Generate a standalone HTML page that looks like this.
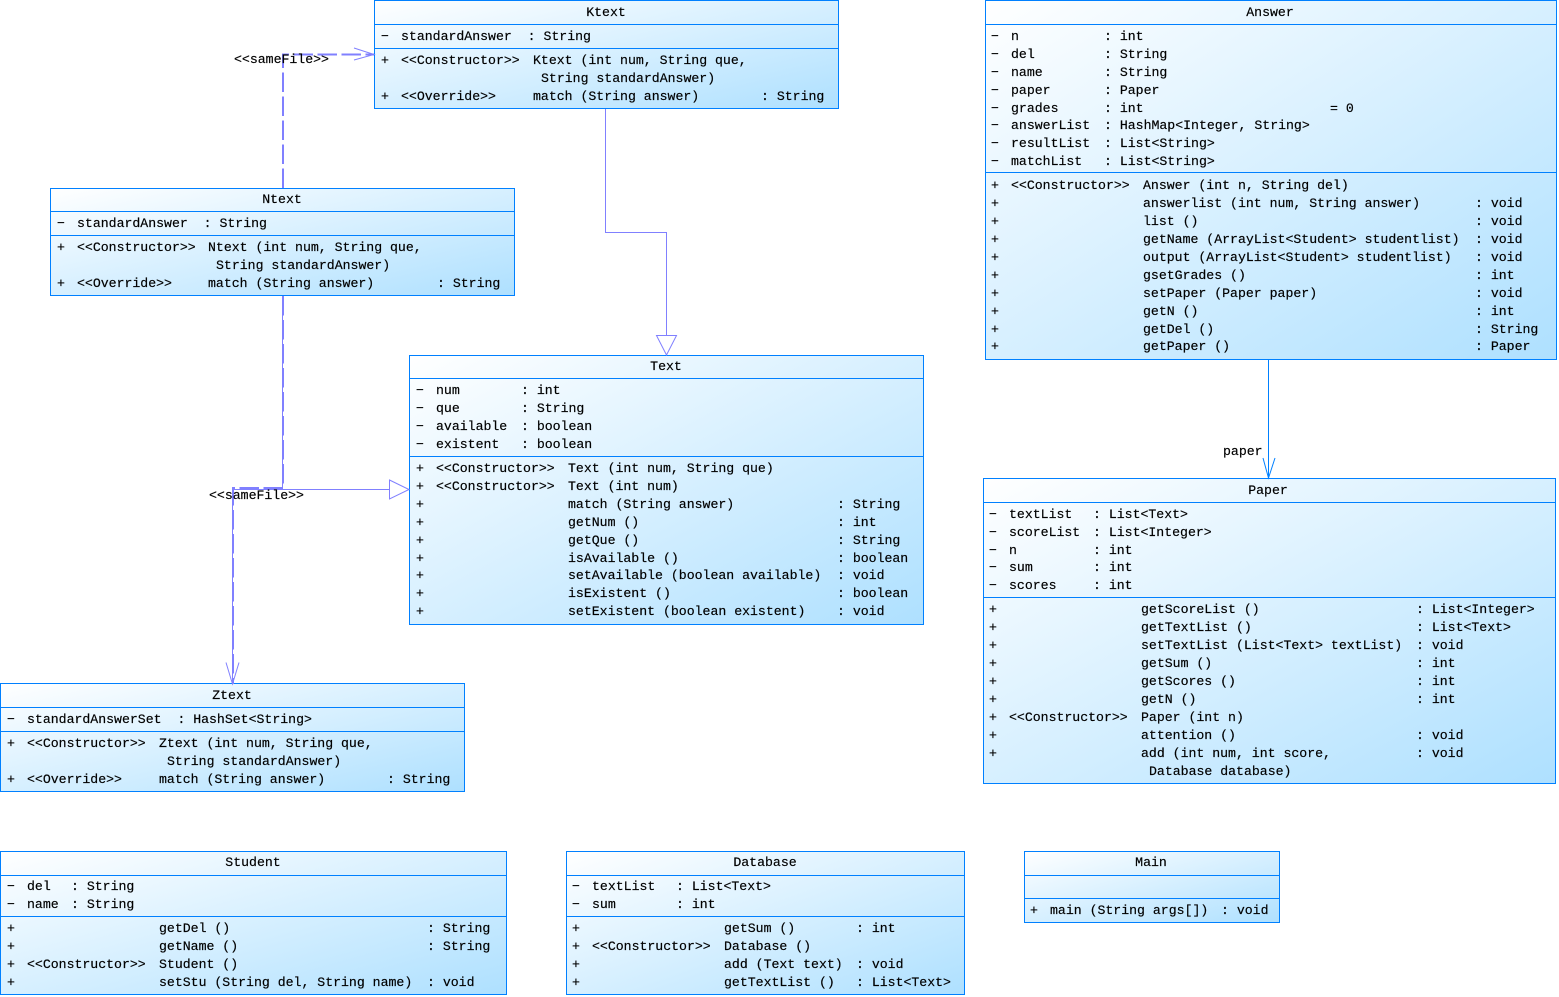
<!DOCTYPE html>
<html><head><meta charset="utf-8"><title>UML</title>
<style>
html,body{margin:0;padding:0;background:#fff;width:1559px;height:997px;overflow:hidden}
svg{display:block}
text{font-family:"Liberation Mono",monospace;font-size:13.2px;fill:#000;stroke:#000;stroke-width:.18px;white-space:pre}
.b{stroke:#0080ff;stroke-width:1;fill:url(#g)}
.l{stroke:#0080ff;stroke-width:1;fill:none}
.c{stroke:#8080ff;stroke-width:1;fill:none}
.d{stroke:#8080ff;stroke-width:2;fill:none;stroke-dasharray:19.5 4.5}
.t{text-anchor:middle}
</style></head><body>
<svg width="1559" height="997" viewBox="0 0 1559 997" xmlns="http://www.w3.org/2000/svg">
<defs><linearGradient id="g" x1="0" y1="0" x2="1" y2="1"><stop offset="0" stop-color="#ffffff"/><stop offset="1" stop-color="#aee0ff"/></linearGradient></defs>

<!-- Ktext -->
<rect class="b" x="374.5" y="0.5" width="464" height="108"/>
<path class="l" d="M374 24.5H838M374 48.5H838"/>
<text class="t" x="606" y="16">Ktext</text>
<text x="381" y="40">−</text><text x="401" y="40">standardAnswer  : String</text>
<text x="381" y="64">+</text><text x="401" y="64">&lt;&lt;Constructor&gt;&gt;</text><text x="533" y="64">Ktext (int num, String que,</text>
<text x="541" y="82">String standardAnswer)</text>
<text x="381" y="100">+</text><text x="401" y="100">&lt;&lt;Override&gt;&gt;</text><text x="533" y="100">match (String answer)</text><text x="761" y="100">: String</text>

<!-- Ntext -->
<rect class="b" x="50.5" y="188.5" width="464" height="107"/>
<path class="l" d="M50 211.5H514M50 235.5H514"/>
<text class="t" x="282" y="203">Ntext</text>
<text x="57" y="227">−</text><text x="77" y="227">standardAnswer  : String</text>
<text x="57" y="251">+</text><text x="77" y="251">&lt;&lt;Constructor&gt;&gt;</text><text x="208" y="251">Ntext (int num, String que,</text>
<text x="216" y="269">String standardAnswer)</text>
<text x="57" y="287">+</text><text x="77" y="287">&lt;&lt;Override&gt;&gt;</text><text x="208" y="287">match (String answer)</text><text x="437" y="287">: String</text>

<!-- Text -->
<rect class="b" x="409.5" y="355.5" width="514" height="269"/>
<path class="l" d="M409 378.5H923M409 456.5H923"/>
<text class="t" x="666" y="370">Text</text>
<text x="416" y="394">−</text><text x="436" y="394">num</text><text x="521" y="394">: int</text>
<text x="416" y="412">−</text><text x="436" y="412">que</text><text x="521" y="412">: String</text>
<text x="416" y="430">−</text><text x="436" y="430">available</text><text x="521" y="430">: boolean</text>
<text x="416" y="448">−</text><text x="436" y="448">existent</text><text x="521" y="448">: boolean</text>
<text x="416" y="472">+</text><text x="436" y="472">&lt;&lt;Constructor&gt;&gt;</text><text x="568" y="472">Text (int num, String que)</text>
<text x="416" y="490">+</text><text x="436" y="490">&lt;&lt;Constructor&gt;&gt;</text><text x="568" y="490">Text (int num)</text>
<text x="416" y="508">+</text><text x="568" y="508">match (String answer)</text><text x="837" y="508">: String</text>
<text x="416" y="526">+</text><text x="568" y="526">getNum ()</text><text x="837" y="526">: int</text>
<text x="416" y="544">+</text><text x="568" y="544">getQue ()</text><text x="837" y="544">: String</text>
<text x="416" y="562">+</text><text x="568" y="562">isAvailable ()</text><text x="837" y="562">: boolean</text>
<text x="416" y="579">+</text><text x="568" y="579">setAvailable (boolean available)</text><text x="837" y="579">: void</text>
<text x="416" y="597">+</text><text x="568" y="597">isExistent ()</text><text x="837" y="597">: boolean</text>
<text x="416" y="615">+</text><text x="568" y="615">setExistent (boolean existent)</text><text x="837" y="615">: void</text>

<!-- Ztext -->
<rect class="b" x="0.5" y="683.5" width="464" height="108"/>
<path class="l" d="M0 707.5H464M0 731.5H464"/>
<text class="t" x="232" y="699">Ztext</text>
<text x="7" y="723">−</text><text x="27" y="723">standardAnswerSet  : HashSet&lt;String&gt;</text>
<text x="7" y="747">+</text><text x="27" y="747">&lt;&lt;Constructor&gt;&gt;</text><text x="159" y="747">Ztext (int num, String que,</text>
<text x="167" y="765">String standardAnswer)</text>
<text x="7" y="783">+</text><text x="27" y="783">&lt;&lt;Override&gt;&gt;</text><text x="159" y="783">match (String answer)</text><text x="387" y="783">: String</text>

<!-- Answer -->
<rect class="b" x="985.5" y="0.5" width="571" height="359"/>
<path class="l" d="M985 24.5H1556M985 172.5H1556"/>
<text class="t" x="1270" y="16">Answer</text>
<text x="991" y="40">−</text><text x="1011" y="40">n</text><text x="1104" y="40">: int</text>
<text x="991" y="58">−</text><text x="1011" y="58">del</text><text x="1104" y="58">: String</text>
<text x="991" y="76">−</text><text x="1011" y="76">name</text><text x="1104" y="76">: String</text>
<text x="991" y="94">−</text><text x="1011" y="94">paper</text><text x="1104" y="94">: Paper</text>
<text x="991" y="112">−</text><text x="1011" y="112">grades</text><text x="1104" y="112">: int</text><text x="1330" y="112">= 0</text>
<text x="991" y="129">−</text><text x="1011" y="129">answerList</text><text x="1104" y="129">: HashMap&lt;Integer, String&gt;</text>
<text x="991" y="147">−</text><text x="1011" y="147">resultList</text><text x="1104" y="147">: List&lt;String&gt;</text>
<text x="991" y="165">−</text><text x="1011" y="165">matchList</text><text x="1104" y="165">: List&lt;String&gt;</text>
<text x="991" y="189">+</text><text x="1011" y="189">&lt;&lt;Constructor&gt;&gt;</text><text x="1143" y="189">Answer (int n, String del)</text>
<text x="991" y="207">+</text><text x="1143" y="207">answerlist (int num, String answer)</text><text x="1475" y="207">: void</text>
<text x="991" y="225">+</text><text x="1143" y="225">list ()</text><text x="1475" y="225">: void</text>
<text x="991" y="243">+</text><text x="1143" y="243">getName (ArrayList&lt;Student&gt; studentlist)</text><text x="1475" y="243">: void</text>
<text x="991" y="261">+</text><text x="1143" y="261">output (ArrayList&lt;Student&gt; studentlist)</text><text x="1475" y="261">: void</text>
<text x="991" y="279">+</text><text x="1143" y="279">gsetGrades ()</text><text x="1475" y="279">: int</text>
<text x="991" y="297">+</text><text x="1143" y="297">setPaper (Paper paper)</text><text x="1475" y="297">: void</text>
<text x="991" y="315">+</text><text x="1143" y="315">getN ()</text><text x="1475" y="315">: int</text>
<text x="991" y="333">+</text><text x="1143" y="333">getDel ()</text><text x="1475" y="333">: String</text>
<text x="991" y="350">+</text><text x="1143" y="350">getPaper ()</text><text x="1475" y="350">: Paper</text>

<!-- Paper -->
<rect class="b" x="983.5" y="478.5" width="572" height="305"/>
<path class="l" d="M983 502.5H1555M983 597.5H1555"/>
<text class="t" x="1268" y="494">Paper</text>
<text x="989" y="518">−</text><text x="1009" y="518">textList</text><text x="1093" y="518">: List&lt;Text&gt;</text>
<text x="989" y="536">−</text><text x="1009" y="536">scoreList</text><text x="1093" y="536">: List&lt;Integer&gt;</text>
<text x="989" y="554">−</text><text x="1009" y="554">n</text><text x="1093" y="554">: int</text>
<text x="989" y="571">−</text><text x="1009" y="571">sum</text><text x="1093" y="571">: int</text>
<text x="989" y="589">−</text><text x="1009" y="589">scores</text><text x="1093" y="589">: int</text>
<text x="989" y="613">+</text><text x="1141" y="613">getScoreList ()</text><text x="1416" y="613">: List&lt;Integer&gt;</text>
<text x="989" y="631">+</text><text x="1141" y="631">getTextList ()</text><text x="1416" y="631">: List&lt;Text&gt;</text>
<text x="989" y="649">+</text><text x="1141" y="649">setTextList (List&lt;Text&gt; textList)</text><text x="1416" y="649">: void</text>
<text x="989" y="667">+</text><text x="1141" y="667">getSum ()</text><text x="1416" y="667">: int</text>
<text x="989" y="685">+</text><text x="1141" y="685">getScores ()</text><text x="1416" y="685">: int</text>
<text x="989" y="703">+</text><text x="1141" y="703">getN ()</text><text x="1416" y="703">: int</text>
<text x="989" y="721">+</text><text x="1009" y="721">&lt;&lt;Constructor&gt;&gt;</text><text x="1141" y="721">Paper (int n)</text>
<text x="989" y="739">+</text><text x="1141" y="739">attention ()</text><text x="1416" y="739">: void</text>
<text x="989" y="757">+</text><text x="1141" y="757">add (int num, int score,</text><text x="1416" y="757">: void</text>
<text x="1149" y="775">Database database)</text>

<!-- Student -->
<rect class="b" x="0.5" y="851.5" width="506" height="143"/>
<path class="l" d="M0 875.5H506M0 916.5H506"/>
<text class="t" x="253" y="866">Student</text>
<text x="7" y="890">−</text><text x="27" y="890">del</text><text x="71" y="890">: String</text>
<text x="7" y="908">−</text><text x="27" y="908">name</text><text x="71" y="908">: String</text>
<text x="7" y="932">+</text><text x="159" y="932">getDel ()</text><text x="427" y="932">: String</text>
<text x="7" y="950">+</text><text x="159" y="950">getName ()</text><text x="427" y="950">: String</text>
<text x="7" y="968">+</text><text x="27" y="968">&lt;&lt;Constructor&gt;&gt;</text><text x="159" y="968">Student ()</text>
<text x="7" y="986">+</text><text x="159" y="986">setStu (String del, String name)</text><text x="427" y="986">: void</text>

<!-- Database -->
<rect class="b" x="566.5" y="851.5" width="398" height="143"/>
<path class="l" d="M566 875.5H964M566 916.5H964"/>
<text class="t" x="765" y="866">Database</text>
<text x="572" y="890">−</text><text x="592" y="890">textList</text><text x="676" y="890">: List&lt;Text&gt;</text>
<text x="572" y="908">−</text><text x="592" y="908">sum</text><text x="676" y="908">: int</text>
<text x="572" y="932">+</text><text x="724" y="932">getSum ()</text><text x="856" y="932">: int</text>
<text x="572" y="950">+</text><text x="592" y="950">&lt;&lt;Constructor&gt;&gt;</text><text x="724" y="950">Database ()</text>
<text x="572" y="968">+</text><text x="724" y="968">add (Text text)</text><text x="856" y="968">: void</text>
<text x="572" y="986">+</text><text x="724" y="986">getTextList ()</text><text x="856" y="986">: List&lt;Text&gt;</text>

<!-- Main -->
<rect class="b" x="1024.5" y="851.5" width="255" height="71"/>
<path class="l" d="M1024 875.5H1279M1024 898.5H1279"/>
<text class="t" x="1151" y="866">Main</text>
<text x="1030" y="914">+</text><text x="1050" y="914">main (String args[])</text><text x="1221" y="914">: void</text>

<!-- Connectors -->
<path class="c" d="M605.5 109V232.5H666.5V335"/>
<path class="c" d="M656.5 335.5H676.5L666.5 355Z"/>
<path class="c" d="M282.5 296V489.5H389M282.5 489.5H232.5V684"/>
<path class="c" d="M389.5 480L409 489.5L389.5 499Z"/>
<path class="c" d="M354 48L374 54.5L354 60"/>
<path class="d" d="M283 188V54.5H374"/>
<path class="c" d="M226 662.5L232.5 684L239 662.5"/>
<path class="d" d="M283 296V488H233V684"/>
<path d="M1268.5 360V478" stroke="#0080ff" fill="none"/>
<path d="M1263 458L1268.5 478L1275 458" stroke="#0080ff" fill="none"/>

<text x="234" y="63">&lt;&lt;sameFile&gt;&gt;</text>
<text x="209" y="499">&lt;&lt;sameFile&gt;&gt;</text>
<text x="1223" y="455">paper</text>
</svg>
</body></html>
